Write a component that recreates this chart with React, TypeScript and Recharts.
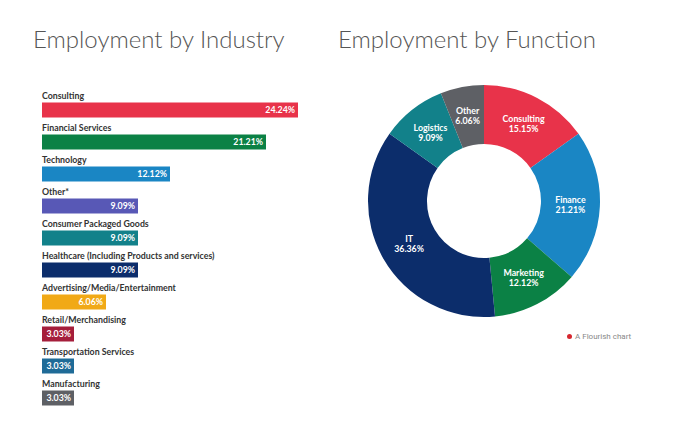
import { BarChart, Bar, XAxis, YAxis, LabelList, Cell, PieChart, Pie } from 'recharts'

const industries = [
  'Consulting',
  'Financial Services',
  'Technology',
  'Other*',
  'Consumer Packaged Goods',
  'Healthcare (Including Products and services)',
  'Advertising/Media/Entertainment',
  'Retail/Merchandising',
  'Transportation Services',
  'Manufacturing',
]
const industryShares = [24.24, 21.21, 12.12, 9.09, 9.09, 9.09, 6.06, 3.03, 3.03, 3.03]
const industryColors = ['#e8334a', '#0b8145', '#1a86c4', '#5858b6', '#12818a', '#0c2d6b', '#f1a916', '#a51e3b', '#1f6b97', '#5e6065']

const functions = ['Consulting', 'Finance', 'Marketing', 'IT', 'Logistics', 'Other']
const functionShares = [15.15, 21.21, 12.12, 36.36, 9.09, 6.06]
const functionColors = ['#e8334a', '#1a86c4', '#0b8145', '#0c2d6b', '#12818a', '#5e6065']

const industryData = industries.map((name, i) => ({ name, value: industryShares[i], color: industryColors[i] }))
const functionData = functions.map((name, i) => ({ name, value: functionShares[i], color: functionColors[i] }))

const FONT = 'Lato, "Open Sans", sans-serif'
const RAD = Math.PI / 180

const pct = (v: number) => `${v.toFixed(2)}%`

// category name sits just above its bar
const CategoryLabel = (props: any) => {
  const { x, y, value } = props
  return (
    <text x={x} y={y - 4} fill="#333" fontSize={8.8} fontWeight={700} fontFamily={FONT}>
      {value}
    </text>
  )
}

const SliceLabel = (props: any) => {
  const { cx, cy, midAngle, innerRadius, outerRadius, name, value } = props
  const r = (innerRadius + outerRadius) / 2
  const x = cx + r * Math.cos(-midAngle * RAD)
  const y = cy + r * Math.sin(-midAngle * RAD)
  return (
    <text x={x} y={y} fill="#fff" fontSize={8.8} fontWeight={700} fontFamily={FONT} textAnchor="middle">
      <tspan x={x} dy={-2}>{name}</tspan>
      <tspan x={x} dy={10}>{pct(value)}</tspan>
    </text>
  )
}

export default function App() {
  return (
    <div style={{ position: 'absolute', left: 0, top: 0, width: 697, height: 427, background: '#fff', overflow: 'hidden' }}>
      <div style={{ position: 'absolute', left: 33, top: 24, fontFamily: FONT, fontWeight: 300, fontSize: 24, color: '#555', whiteSpace: 'nowrap' }}>
        Employment by Industry
      </div>
      <div style={{ position: 'absolute', left: 338, top: 24, fontFamily: FONT, fontWeight: 300, fontSize: 24, color: '#555', whiteSpace: 'nowrap' }}>
        Employment by Function
      </div>

      <div style={{ position: 'absolute', left: 0, top: 0 }}>
        <BarChart
          width={340}
          height={427}
          data={industryData}
          layout="vertical"
          margin={{ top: 93.5, right: 42, bottom: 13.5, left: 42 }}
          barSize={15}
        >
          <XAxis type="number" domain={[0, 'dataMax']} hide />
          <YAxis type="category" dataKey="name" hide />
          <Bar dataKey="value" isAnimationActive={false}>
            {industryData.map((d) => (
              <Cell key={d.name} fill={d.color} />
            ))}
            <LabelList dataKey="name" content={CategoryLabel} />
            <LabelList
              dataKey="value"
              position="insideRight"
              offset={3}
              formatter={(v: any) => pct(Number(v))}
              style={{ fill: '#fff', fontSize: 8.8, fontWeight: 700, fontFamily: FONT }}
            />
          </Bar>
        </BarChart>
      </div>

      <div style={{ position: 'absolute', left: 340, top: 0 }}>
        <PieChart width={357} height={427} margin={{ top: 0, right: 0, bottom: 0, left: 0 }}>
          <Pie
            data={functionData}
            dataKey="value"
            nameKey="name"
            cx={144}
            cy={201}
            innerRadius={57}
            outerRadius={116}
            startAngle={90}
            endAngle={-270}
            stroke="none"
            labelLine={false}
            label={SliceLabel}
            isAnimationActive={false}
          >
            {functionData.map((d) => (
              <Cell key={d.name} fill={d.color} />
            ))}
          </Pie>
        </PieChart>
      </div>

      <div style={{ position: 'absolute', left: 567, top: 332, display: 'flex', alignItems: 'center', fontFamily: 'Roboto, sans-serif', fontSize: 8, color: '#888' }}>
        <span style={{ width: 5, height: 5, borderRadius: '50%', background: '#d6272f', marginRight: 3, display: 'inline-block' }} />
        A Flourish chart
      </div>
    </div>
  )
}
